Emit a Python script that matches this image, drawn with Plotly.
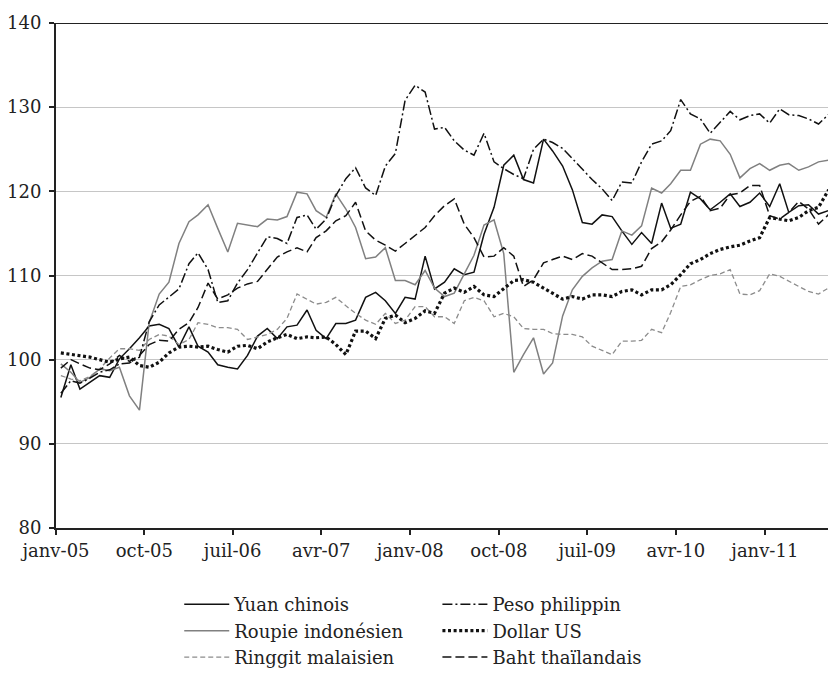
import pandas as pd
import plotly.graph_objects as go

months = pd.date_range("2005-01-01", periods=80, freq="MS") + pd.Timedelta(days=15)
tick_dates = pd.date_range("2005-01-01", periods=9, freq="9MS")
tick_labels = ["janv-05", "oct-05", "juil-06", "avr-07", "janv-08",
               "oct-08", "juil-09", "avr-10", "janv-11"]

yuan = [95.5, 99.4, 96.5, 97.3, 98.1, 97.9, 100.1, 101.3, 102.6, 104.0, 104.2, 103.7,
        101.5, 103.9, 101.6, 100.9, 99.4, 99.1, 98.9, 100.5, 102.8, 103.7, 102.5,
        103.9, 104.1, 105.9, 103.5, 102.5, 104.3, 104.3, 104.7, 107.4, 108.0, 107.0,
        105.5, 107.4, 107.2, 112.3, 108.4, 109.2, 110.8, 110.1, 110.4, 114.9, 118.1, 123.1,
        124.3, 121.4, 121.0, 126.2, 124.8, 123.0, 120.2, 116.3, 116.1, 117.2, 117.0, 115.3,
        113.7, 115.1, 113.8, 118.6, 115.6, 116.1, 119.9, 119.1, 117.8, 118.7, 119.7,
        118.2, 118.7, 119.8, 118.2, 120.9, 117.5, 118.3, 118.4, 117.3, 117.7, 119.7]

peso = [96.0, 97.5, 97.2, 97.8, 98.5, 98.8, 99.5, 99.6, 100.3, 104.5, 106.5, 107.4,
        108.4, 111.4, 112.7, 110.7, 106.8, 107.0, 109.1, 110.7, 112.7, 114.6, 114.4,
        113.8, 116.9, 117.2, 115.5, 116.7, 119.5, 121.5, 122.8, 120.4, 119.5, 123.0, 124.5,
        130.8, 132.6, 131.8, 127.4, 127.6, 126.0, 124.9, 124.3, 126.9, 123.5, 122.7, 122.0,
        121.5, 125.0, 126.2, 125.8, 125.1, 123.9, 122.6, 121.4, 120.3, 118.9, 121.1,
        121.0, 123.5, 125.6, 126.0, 127.2, 130.9, 129.2, 128.6, 126.9, 128.2, 129.5,
        128.5, 129.0, 129.2, 128.1, 129.8, 129.1, 129.0, 128.6, 128.0, 129.1, 128.9]

roupie = [99.5, 98.5, 97.3, 97.9, 98.9, 98.7, 99.1, 95.7, 94.0, 104.4, 107.8, 109.2,
          113.8, 116.4, 117.2, 118.4, 115.6, 112.8, 116.2, 116.0, 115.8, 116.7, 116.6,
          117.0, 119.9, 119.7, 117.7, 116.9, 119.7, 117.9, 115.7, 112.0, 112.2, 113.3, 109.4,
          109.4, 108.9, 110.6, 108.5, 107.5, 107.9, 110.2, 112.4, 116.0, 116.6, 112.6,
          98.5, 100.6, 102.6, 98.3, 99.6, 105.2, 108.3, 109.9, 110.9, 111.7, 111.9, 115.3,
          114.8, 115.9, 120.4, 119.8, 120.9, 122.5, 122.5, 125.6, 126.2, 126.0, 124.4, 121.6,
          122.7, 123.3, 122.5, 123.1, 123.3, 122.5, 122.9, 123.5, 123.7, 123.6]

dollar = [100.8, 100.6, 100.5, 100.3, 100.0, 99.7, 100.1, 100.3, 99.3, 99.1, 99.7, 100.8,
          101.5, 101.6, 101.5, 101.6, 101.2, 100.9, 101.6, 101.7, 101.3, 102.1, 102.6,
          103.0, 102.5, 102.7, 102.6, 102.7, 101.8, 100.6, 103.4, 103.4, 102.5, 104.9, 105.3,
          104.4, 104.9, 105.8, 105.5, 107.9, 108.5, 108.0, 108.7, 107.7, 107.5, 108.4, 109.4,
          109.5, 109.2, 108.5, 107.9, 107.2, 107.5, 107.2, 107.7, 107.7, 107.5, 108.1, 108.3,
          107.7, 108.3, 108.3, 108.9, 110.1, 111.4, 111.9, 112.6, 113.1, 113.4, 113.6,
          114.1, 114.5, 116.9, 116.7, 116.5, 116.9, 117.7, 118.1, 120.1, 120.5]

ringgit = [98.1, 97.7, 97.5, 98.0, 98.9, 100.2, 101.3, 101.3, 101.1, 102.4, 103.0, 102.8,
           101.8, 102.4, 104.4, 104.2, 103.8, 103.8, 103.6, 102.4, 102.7, 103.0, 103.6,
           104.9, 107.8, 107.2, 106.6, 106.8, 107.4, 106.4, 105.5, 104.7, 104.2, 105.5, 104.3,
           104.7, 106.3, 106.3, 105.1, 105.1, 104.3, 107.0, 107.4, 107.0, 105.1, 105.5, 105.1,
           103.7, 103.6, 103.6, 103.1, 103.0, 103.0, 102.7, 101.6, 101.1, 100.6, 102.2, 102.2,
           102.3, 103.6, 103.2, 105.6, 108.7, 108.9, 109.5, 110.0, 110.2, 110.7, 107.8,
           107.7, 108.2, 110.2, 109.9, 109.3, 108.7, 108.1, 107.8, 108.5, 108.2]

baht = [99.0, 100.0, 99.5, 99.0, 98.8, 99.5, 100.5, 99.8, 100.5, 101.8, 102.3, 102.2,
        103.6, 104.4, 106.2, 109.1, 107.2, 107.7, 108.5, 109.0, 109.3, 110.7, 112.2,
        112.8, 113.3, 112.8, 114.5, 115.3, 116.5, 117.1, 118.7, 115.3, 114.2, 113.6, 112.9,
        113.8, 114.7, 115.7, 117.1, 118.3, 119.1, 116.1, 114.5, 112.2, 112.3, 113.3, 112.3,
        108.7, 109.5, 111.5, 111.9, 112.3, 111.9, 112.6, 112.3, 111.5, 110.7, 110.7, 110.8,
        111.1, 113.2, 114.0, 115.4, 117.2, 118.8, 119.4, 117.7, 118.0, 119.6, 119.8,
        120.7, 120.7, 117.1, 116.7, 117.5, 118.8, 117.9, 116.1, 117.2, 117.1]

FONT = "DejaVu Serif"
FS = 18
fig = go.Figure()

def add(name, y, color, width, dash, legend):
    fig.add_trace(go.Scatter(x=months, y=y, name=name, mode="lines",
                             line=dict(color=color, width=width, dash=dash),
                             legend=legend, legendgroup=name))

add("Yuan chinois", yuan, "#111111", 1.5, "solid", "legend")
add("Roupie indonésien", roupie, "#808080", 1.5, "solid", "legend")
add("Ringgit malaisien", ringgit, "#8c8c8c", 1.3, "5px,3px", "legend")
add("Peso philippin", peso, "#111111", 1.5, "10px,3px,2px,3px", "legend2")
add("Dollar US", dollar, "#111111", 3.2, "3px,2.6px", "legend2")
add("Baht thaïlandais", baht, "#111111", 1.5, "9px,4px", "legend2")

legend_common = dict(font=dict(family=FONT, size=FS, color="#222222"),
                     bgcolor="rgba(0,0,0,0)", yanchor="top", xanchor="left",
                     orientation="v", tracegroupgap=5, traceorder="normal",
                     itemwidth=45)

fig.update_layout(
    width=828, height=681,
    margin=dict(l=48, r=0, t=15, b=161),
    paper_bgcolor="white", plot_bgcolor="white",
    font=dict(family=FONT, size=FS, color="#222222"),
    legend=dict(x=0.158, y=-0.115, **legend_common),
    legend2=dict(x=0.489, y=-0.115, **legend_common),
    xaxis=dict(type="date", range=["2005-01-01", "2011-08-09"],
               tickvals=tick_dates, ticktext=tick_labels, automargin=False,
               showgrid=False, showline=True, linecolor="#222222", linewidth=2,
               ticks="outside", ticklen=5, tickwidth=2, tickcolor="#222222",
               tickfont=dict(family=FONT, size=FS, color="#222222"),
               zeroline=False),
    yaxis=dict(range=[80, 140], dtick=10, tick0=80, automargin=False,
               showgrid=True, gridcolor="#c6c6c6", gridwidth=1.3,
               showline=True, linecolor="#222222", linewidth=2,
               ticks="outside", ticklen=5, tickwidth=2, tickcolor="#222222",
               tickfont=dict(family=FONT, size=FS, color="#222222"),
               ticklabelstandoff=4, zeroline=False),
    shapes=[dict(type="line", xref="paper", x0=0, x1=1, yref="y", y0=140, y1=140,
                 line=dict(color="#222222", width=2))],
)

fig.write_html("out.html")
